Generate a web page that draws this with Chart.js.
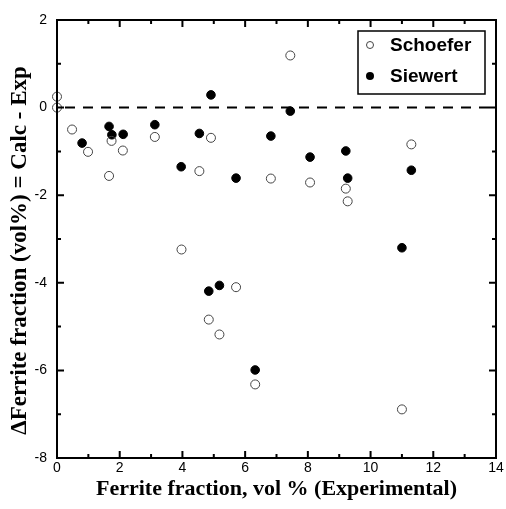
<!DOCTYPE html>
<html>
<head>
<meta charset="utf-8">
<script src="https://cdn.jsdelivr.net/npm/chart.js@4.4.0/dist/chart.umd.min.js"></script>
<style>
  body { margin: 0; background: #fff; }
  canvas { display: block; }
</style>
</head>
<body>
<canvas id="chart" width="506" height="509"></canvas>
<script>
// values
const schoeferX = [0, 0, 0.48, 0.99, 1.66, 1.74, 2.10, 3.12, 3.97, 4.54, 4.84, 4.91, 5.18, 5.71, 6.32, 6.82, 7.44, 8.07, 9.21, 9.27, 11.0, 11.3];
const schoeferY = [0.25, 0, -0.50, -1.01, -1.56, -0.76, -0.98, -0.67, -3.24, -1.45, -4.84, -0.69, -5.18, -4.10, -6.32, -1.62, 1.19, -1.71, -1.85, -2.14, -6.89, -0.84];

const siewertX = [0.80, 1.66, 1.75, 2.11, 3.12, 3.96, 4.54, 4.84, 4.91, 5.18, 5.71, 6.32, 6.82, 7.44, 8.07, 9.21, 9.27, 11.0, 11.3];
const siewertY = [-0.81, -0.43, -0.62, -0.61, -0.39, -1.35, -0.59, -4.19, 0.29, -4.06, -1.61, -5.99, -0.65, -0.08, -1.13, -0.99, -1.61, -3.20, -1.43];

const seriesNames = ['Schoefer', 'Siewert'];
const xRange = [0, 14];
const yRange = [-8, 2];
const zeroLineValue = 0;

const toPoints = (xs, ys) => xs.map((x, i) => ({ x: x, y: ys[i] }));

// frame with inward ticks on all four sides
const framePlugin = {
    id: 'frame',
    afterDraw(chart) {
        const { ctx, chartArea: a, scales } = chart;
        ctx.save();
        ctx.strokeStyle = '#000';
        ctx.lineWidth = 2;
        ctx.beginPath();
        scales.x.ticks.forEach(t => {
            const px = scales.x.getPixelForValue(t.value);
            const len = t.value % 2 === 0 ? 7 : 4;
            ctx.moveTo(px, a.bottom); ctx.lineTo(px, a.bottom - len);
            ctx.moveTo(px, a.top); ctx.lineTo(px, a.top + len);
        });
        scales.y.ticks.forEach(t => {
            const py = scales.y.getPixelForValue(t.value);
            const len = t.value % 2 === 0 ? 7 : 4;
            ctx.moveTo(a.left, py); ctx.lineTo(a.left + len, py);
            ctx.moveTo(a.right, py); ctx.lineTo(a.right - len, py);
        });
        ctx.stroke();
        ctx.strokeRect(a.left, a.top, a.right - a.left, a.bottom - a.top);
        ctx.restore();
    }
};

// dashed zero line
const zeroLinePlugin = {
    id: 'zeroLine',
    beforeDatasetsDraw(chart) {
        const { ctx, chartArea: a, scales } = chart;
        const py = scales.y.getPixelForValue(zeroLineValue);
        ctx.save();
        ctx.strokeStyle = '#000';
        ctx.lineWidth = 2;
        ctx.setLineDash([10, 8]);
        ctx.lineDashOffset = -8;
        ctx.beginPath();
        ctx.moveTo(a.left, py);
        ctx.lineTo(a.right, py);
        ctx.stroke();
        ctx.restore();
    }
};

// boxed legend inside the plot, top right
const boxLegendPlugin = {
    id: 'boxLegend',
    afterDraw(chart) {
        const { ctx, chartArea: a } = chart;
        const w = 127, h = 63;
        const left = a.right - 11 - w, top = a.top + 11;
        ctx.save();
        ctx.fillStyle = '#fff';
        ctx.fillRect(left, top, w, h);
        ctx.strokeStyle = '#000';
        ctx.lineWidth = 1.5;
        ctx.strokeRect(left, top, w, h);
        ctx.font = 'bold 19px "Liberation Sans", Arial, sans-serif';
        ctx.textBaseline = 'middle';
        chart.data.datasets.forEach((ds, i) => {
            const cy = top + 14 + i * 31;
            const cx = left + 12;
            ctx.beginPath();
            ctx.arc(cx, cy, i === 0 ? 3.5 : 4, 0, Math.PI * 2);
            if (i === 1) {
                ctx.fillStyle = ds.backgroundColor;
                ctx.fill();
            } else {
                ctx.strokeStyle = ds.borderColor;
                ctx.lineWidth = 1;
                ctx.stroke();
            }
            ctx.fillStyle = '#000';
            ctx.fillText(ds.label, left + 32, cy + 1);
        });
        ctx.restore();
    }
};

new Chart(document.getElementById('chart'), {
    type: 'scatter',
    data: {
        datasets: [{
            label: seriesNames[0],
            data: toPoints(schoeferX, schoeferY),
            backgroundColor: 'rgba(255,255,255,0)',
            borderColor: '#444',
            borderWidth: 1,
            pointRadius: 4.5,
            clip: false
        }, {
            label: seriesNames[1],
            data: toPoints(siewertX, siewertY),
            backgroundColor: '#000',
            borderColor: '#000',
            borderWidth: 1,
            pointRadius: 4.3,
            clip: false
        }]
    },
    options: {
        responsive: false,
        animation: false,
        devicePixelRatio: 1,
        layout: { padding: { top: 20, right: 10, left: 0, bottom: 0 } },
        plugins: {
            legend: { display: false },
            tooltip: { enabled: false }
        },
        scales: {
            x: {
                type: 'linear',
                min: xRange[0],
                max: xRange[1],
                afterFit: s => { s.height = 51; },
                grid: { display: false, drawTicks: false },
                border: { display: false },
                ticks: {
                    stepSize: 1,
                    autoSkip: false,
                    maxRotation: 0,
                    padding: 2,
                    color: '#000',
                    font: { family: '"Liberation Sans", Arial, sans-serif', size: 14 },
                    callback: v => (v % 2 === 0 ? String(v) : '')
                },
                title: {
                    display: true,
                    text: 'Ferrite fraction, vol % (Experimental)',
                    color: '#000',
                    padding: { top: 0, bottom: 6 },
                    font: { family: '"Liberation Serif", "Times New Roman", serif', size: 22, weight: 'bold', lineHeight: 1.2 }
                }
            },
            y: {
                type: 'linear',
                min: yRange[0],
                max: yRange[1],
                afterFit: s => { s.width = 57; },
                grid: { display: false, drawTicks: false },
                border: { display: false },
                ticks: {
                    stepSize: 1,
                    autoSkip: false,
                    padding: 10,
                    color: '#000',
                    font: { family: '"Liberation Sans", Arial, sans-serif', size: 14 },
                    callback: v => (v % 2 === 0 ? String(v) : '')
                },
                title: {
                    display: true,
                    // trailing spaces nudge the centred title down a little, as in the original
                    text: '\u0394Ferrite fraction (vol%) = Calc - Exp\u00a0\u00a0\u00a0\u00a0',
                    color: '#000',
                    padding: { top: 6, bottom: 0 },
                    font: { family: '"Liberation Serif", "Times New Roman", serif', size: 23, weight: 'bold', lineHeight: 1.2 }
                }
            }
        }
    },
    plugins: [zeroLinePlugin, framePlugin, boxLegendPlugin]
});
</script>
</body>
</html>
